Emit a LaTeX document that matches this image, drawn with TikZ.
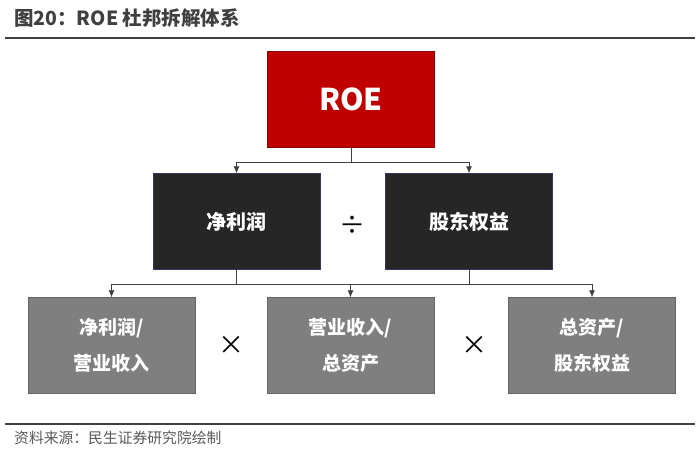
\documentclass[tikz,border=0pt]{standalone}
\usepackage{fontspec}
\setmainfont{Noto Sans CJK SC}
\usepackage{xcolor}
\usepackage{tikz}
\usetikzlibrary{
    arrows.meta,
    positioning,
    calc
}
\definecolor{roered}{HTML}{C00000}
\definecolor{roedark}{HTML}{262626}
\definecolor{roegray}{HTML}{7F7F7F}
\definecolor{roeline}{HTML}{404040}

\begin{document}
\begin{tikzpicture}[
            x=1pt, y=-1pt,
            >=Latex,
            title/.style={font=\fontsize{19.5}{21}\selectfont\bfseries, text=roeline, anchor=west, inner sep=0pt},
            source/.style={font=\fontsize{14.8}{16}\selectfont, text=black!65, anchor=west, inner sep=0pt},
            rule/.style={line width=2.4pt, roeline},
            box/.style={draw, align=center, inner sep=0pt, text=white,
                        minimum width=167pt, minimum height=96pt},
            top/.style={box, fill=roered, draw=roered!70!black,
                        font=\fontsize{30}{32}\selectfont\bfseries},
            mid/.style={box, fill=roedark, draw=gray!70!blue!60!black,
                        font=\fontsize{20}{22}\selectfont\bfseries},
            low/.style={box, fill=roegray, draw=black!60,
                        font=\fontsize{19}{36}\selectfont\bfseries},
            op/.style={font=\fontsize{26}{28}\selectfont, text=black, inner sep=0pt},
            arr/.style={-{Latex[length=7pt, width=6pt]}, line width=0.8pt, roeline}
        ]
            \useasboundingbox (0, 0) rectangle (700, 452);

            \node[title] (head) at (14, 18) {图20：ROE 杜邦拆解体系};
            \draw[rule] (5, 38) -- (695, 38);

            \node[top] (roe) at (351, 99.5) {ROE};

            \node[mid] (profit) at (236.5, 221.5) {净利润};
            \node[mid] (equity) at (469, 221.5) {股东权益};
            \node[op] (divide) at (352, 225) {÷};

            \node[low] (margin) at (111.5, 345.5) {净利润/\\营业收入};
            \node[low] (turnover) at (350.5, 345.5) {营业收入/\\总资产};
            \node[low] (leverage) at (592, 345.5) {总资产/\\股东权益};
            \node[op] (times1) at (231, 345) {×};
            \node[op] (times2) at (474, 345) {×};

            \coordinate (split1) at (351, 162);
            \draw[arr] (roe.south) -- (split1) -| (profit.north);
            \draw[arr] (roe.south) -- (split1) -| (equity.north);

            \coordinate (split2) at (236.5, 284);
            \coordinate (split3) at (469, 284);
            \draw[arr] (profit.south) -- (split2) -| (margin.north);
            \draw[arr] (profit.south) -- (split2) -| (turnover.north);
            \draw[arr] (equity.south) -- (split3) -| (leverage.north);
            \draw[line width=0.8pt, roeline] (split3) -- (split2);

            \draw[rule] (5, 424) -- (695, 424);
            \node[source] (note) at (14, 438) {资料来源：民生证券研究院绘制};
        \end{tikzpicture}
\end{document}
